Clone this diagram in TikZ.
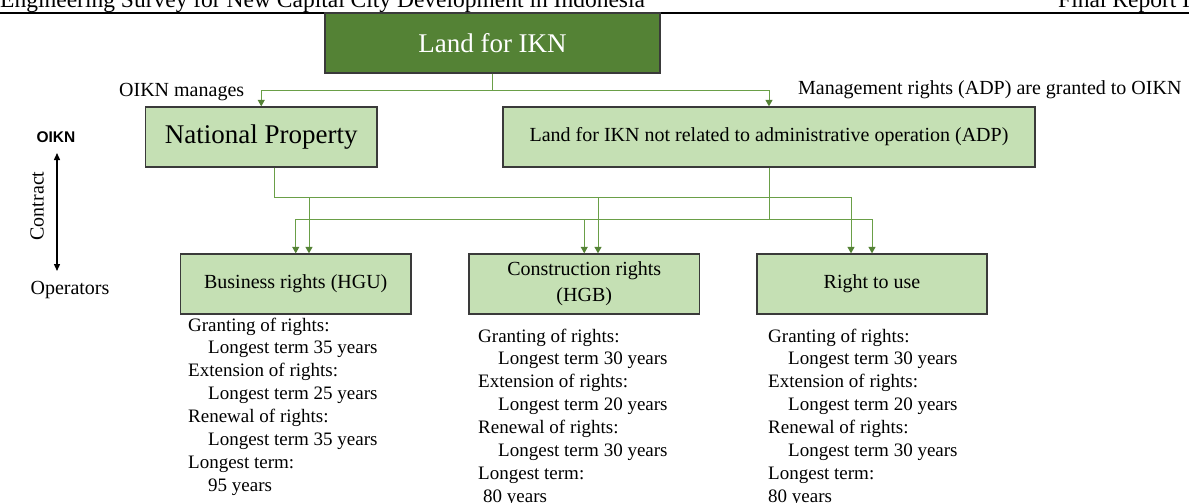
\documentclass[tikz,border=0pt]{standalone}
\usepackage{fontspec}
\setmainfont{Liberation Serif}
\newfontfamily\sansbold{Liberation Sans}
\usetikzlibrary{arrows.meta}
\definecolor{darkg}{HTML}{548235}
\definecolor{lightg}{HTML}{C5E0B4}
\definecolor{lineg}{HTML}{6A9F47}
\definecolor{edgecol}{HTML}{3A3A3A}
\begin{document}
\begin{tikzpicture}[x=1pt,y=-1pt,
  box/.style={draw=edgecol, line width=1.3pt, fill=lightg, minimum height=60pt,
    inner sep=0pt, align=center, font=\fontsize{20}{26}\selectfont},
  conn/.style={draw=lineg, line width=1pt},
  tip/.style={-{Triangle[width=7pt,length=6.5pt,color=darkg]}},
  lbl/.style={inner sep=0pt, font=\fontsize{20}{20}\selectfont},
  listtext/.style={inner sep=0pt, anchor=base west, font=\fontsize{19}{19}\selectfont},
  hdr/.style={inner sep=0pt, anchor=base west, font=\fontsize{23.5}{24}\selectfont}
]
\useasboundingbox (0,0) rectangle (1189,503);
\clip (0,0) rectangle (1189,503);

% header
\node[hdr] (hleft) at (0,8) {Engineering Survey for New Capital City Development in Indonesia};
\node[hdr] (hright) at (1058,8) {Final Report I};
\coordinate (hl1) at (0,12.8);
\coordinate (hl2) at (1189,12.8);
\draw[line width=1.5pt] (hl1) -- (hl2);

% boxes
\node[box, fill=darkg, text=white, minimum width=335pt, font=\fontsize{27}{27}\selectfont] (land) at (492.5,43) {Land for IKN};
\node[box, minimum width=231.5pt, font=\fontsize{27}{27}\selectfont] (np) at (261.25,137) {National Property};
\node[box, minimum width=532pt] (adp) at (769,137) {Land for IKN not related to administrative operation (ADP)};
\node[box, minimum width=230.5pt] (hgu) at (295.75,284) {Business rights (HGU)};
\node[box, minimum width=230.5pt] (hgb) at (584.25,284) {Construction rights\\(HGB)};
\node[box, minimum width=230pt] (rtu) at (872,284) {Right to use};

% labels
\node[lbl, anchor=base west] (lab1) at (119,96) {OIKN manages};
\node[lbl, anchor=base west] (lab2) at (798,95) {Management rights (ADP) are granted to OIKN};

% connectors from Land for IKN
\draw[conn] (land.south) -- ++(0,16.5) coordinate (j1);
\draw[conn, tip] (j1) -| (np.north);
\draw[conn, tip] (j1) -| (adp.north);

% connectors from National Property
\draw[conn] ([xshift=12.75pt]np.south) -- ++(0,29.5) coordinate (j2);
\draw[conn, tip] (j2) -| ([xshift=13.25pt]hgu.north);
\draw[conn, tip] (j2) -| ([xshift=13.75pt]hgb.north);
\draw[conn, tip] (j2) -| ([xshift=-21pt]rtu.north);

% connectors from ADP land
\draw[conn] (adp.south) -- ++(0,51.5) coordinate (j3);
\draw[conn, tip] (j3) -| (hgu.north);
\draw[conn, tip] (j3) -| (hgb.north);
\draw[conn, tip] (j3) -| (rtu.north);

% left scale
\node[inner sep=0pt, font=\sansbold\bfseries\fontsize{15.5}{16}\selectfont] (oikn) at (56,137) {OIKN};
\node[lbl, rotate=90] (contract) at (37,206) {Contract};
\node[lbl] (oper) at (70,290) {Operators};
\coordinate (atop) at (57,153);
\coordinate (abot) at (57,271);
\draw[{Triangle[length=7pt,width=6pt]}-{Triangle[length=7pt,width=6pt]}, line width=1.4pt] (atop) -- (abot);

% lists
\foreach \ind/\t [count=\i] in {0/Granting of rights:, 20/Longest term 35 years, 0/Extension of rights:, 20/Longest term 25 years, 0/Renewal of rights:, 20/Longest term 35 years, 0/Longest term:, 20/95 years}
  \node[listtext] (hgu-\i) at (188+\ind, 331+22.9*\i-22.9) {\t};
\foreach \ind/\t [count=\i] in {0/Granting of rights:, 20/Longest term 30 years, 0/Extension of rights:, 20/Longest term 20 years, 0/Renewal of rights:, 20/Longest term 30 years, 0/Longest term:, 5/80 years}
  \node[listtext] (hgb-\i) at (478+\ind, 342+22.9*\i-22.9) {\t};
\foreach \ind/\t [count=\i] in {0/Granting of rights:, 20/Longest term 30 years, 0/Extension of rights:, 20/Longest term 20 years, 0/Renewal of rights:, 20/Longest term 30 years, 0/Longest term:, 0/80 years}
  \node[listtext] (rtu-\i) at (768+\ind, 342+22.9*\i-22.9) {\t};
\end{tikzpicture}
\end{document}
